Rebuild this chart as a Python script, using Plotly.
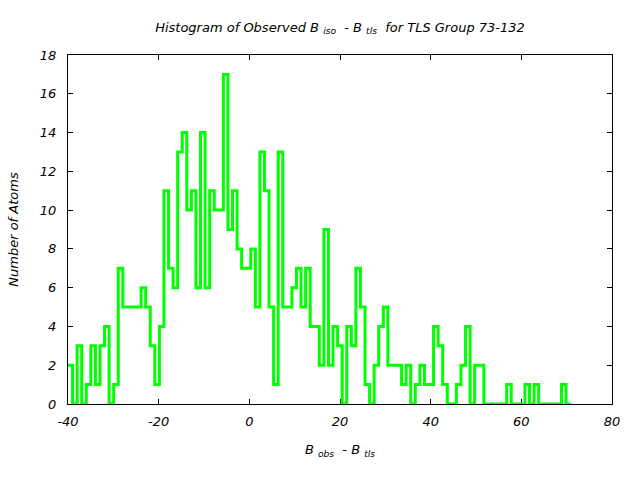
import plotly.graph_objects as go

# Histogram bins: start and width (in B units), counts per bin
bin_start = -40.0
bin_width = 1.008
counts = [
    2, 0, 3, 0, 1, 3, 1, 3, 4, 0,
    1, 7, 5, 5, 5, 5, 6, 5, 3, 1,
    4, 11, 7, 6, 13, 14, 10, 11, 6, 14,
    6, 11, 10, 10, 17, 9, 11, 8, 7, 7,
    8, 5, 13, 11, 5, 1, 13, 5, 5, 6,
    7, 5, 7, 4, 4, 2, 9, 2, 4, 3,
    0, 4, 3, 7, 5, 1, 0, 2, 4, 5,
    2, 2, 2, 1, 2, 0, 1, 2, 1, 1,
    4, 3, 1, 0, 0, 1, 2, 4, 0, 2,
    2, 0, 0, 0, 0, 0, 1, 0, 0, 0,
    1, 0, 1, 0, 0, 0, 0, 0, 1, 0,
]
x_ticks = [-40, -20, 0, 20, 40, 60, 80]
y_ticks = [0, 2, 4, 6, 8, 10, 12, 14, 16, 18]

edges = [bin_start + bin_width * i for i in range(len(counts) + 1)]
xs = edges
ys = counts + [counts[-1]]

font_family = "DejaVu Sans"

fig = go.Figure()
fig.add_trace(go.Scatter(
    x=xs, y=ys, mode="lines", line=dict(shape="hv", color="#00ff00", width=3),
    showlegend=False, hoverinfo="skip",
))

axis_common = dict(
    showline=True, linecolor="black", linewidth=1, mirror="ticks",
    ticks="inside", ticklen=5, tickcolor="black", tickwidth=1,
    showgrid=False, zeroline=False,
    tickfont=dict(family=font_family, size=13, color="black", style="italic"),
    layer="below traces",
)

fig.update_layout(
    width=640, height=480,
    paper_bgcolor="white", plot_bgcolor="white",
    margin=dict(l=68, r=28, t=55, b=76),
    title=dict(
        text="Histogram of Observed B <sub>iso</sub>  - B <sub>tls</sub>  for TLS Group 73-132",
        x=0.5, xref="paper", xanchor="center",
        y=1 - 27 / 480, yref="container", yanchor="middle",
        font=dict(family=font_family, size=13, color="black", style="italic"),
    ),
    xaxis=dict(
        range=[-40, 80], tickvals=x_ticks, ticktext=[str(v) for v in x_ticks],
        ticklabelstandoff=5,
        title=dict(text="B <sub>obs</sub>  - B <sub>tls</sub>", standoff=17,
                   font=dict(family=font_family, size=13, color="black", style="italic")),
        **axis_common,
    ),
    yaxis=dict(
        range=[0, 18], tickvals=y_ticks, ticktext=[str(v) for v in y_ticks],
        ticklabelstandoff=8,
        title=dict(text="Number of Atoms", standoff=18,
                   font=dict(family=font_family, size=13, color="black", style="italic")),
        **axis_common,
    ),
)

fig.write_html("out.html")
